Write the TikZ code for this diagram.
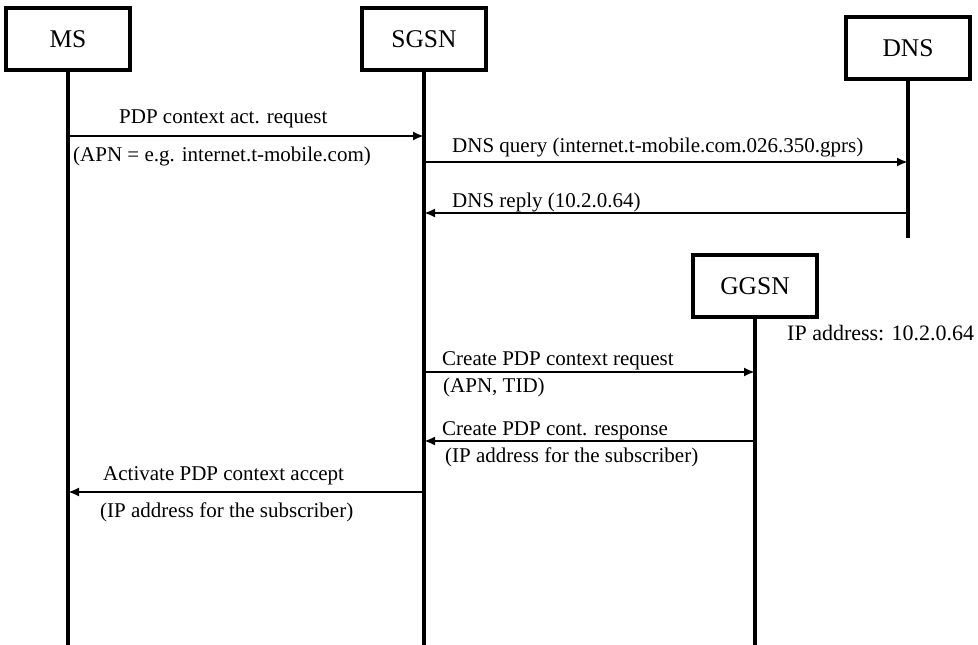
\documentclass[tikz,border=0pt]{standalone}
\usepackage{fontspec}
\setmainfont{Liberation Serif}
\usepackage{tikz}
\usetikzlibrary{arrows.meta,positioning}

\begin{document}
\begin{tikzpicture}[
  x=1pt, y=-1pt,
  ent/.style={draw,line width=3.2pt,minimum width=124pt,minimum height=62pt,
              inner sep=0pt,font=\fontsize{25.5}{30}\selectfont},
  life/.style={line width=3.4pt},
  arr/.style={-{Latex[length=11pt,width=9pt]},line width=2.8pt},
  lbl/.style={anchor=base west,inner sep=0pt,font=\fontsize{21}{25}\selectfont}
]
  \useasboundingbox (0,0) rectangle (978,645);

  % entities
  \node[ent] (ms)   at (68,39)   {MS};
  \node[ent] (sgsn) at (424,39)  {SGSN};
  \node[ent] (dns)  at (908,48)  {DNS};
  \node[ent] (ggsn) at (755,286) {GGSN};

  \coordinate (bottom)  at (0,645);
  \coordinate (dnsend)  at (0,238);

  % lifelines
  \foreach \n in {ms,sgsn,ggsn}
    \draw[life] (\n.south) -- (\n |- bottom);
  \draw[life] (dns.south) -- (dns |- dnsend);

  % message rows
  \coordinate (r1) at (0,136);
  \coordinate (r2) at (0,162);
  \coordinate (r3) at (0,213);
  \coordinate (r4) at (0,372);
  \coordinate (r5) at (0,441);
  \coordinate (r6) at (0,492);

  \draw[arr] (ms |- r1) -- (sgsn |- r1);
  \node[lbl] (actreq) at (119,123) {PDP context act. request};
  \node[lbl] (apn)    at (73,161)  {(APN = e.g. internet.t-mobile.com)};

  \draw[arr] (sgsn |- r2) -- (dns |- r2);
  \node[lbl] (query) at (452,152) {DNS query (internet.t-mobile.com.026.350.gprs)};

  \draw[arr] (dns |- r3) -- (sgsn |- r3);
  \node[lbl] (reply) at (452,207) {DNS reply (10.2.0.64)};

  \node[lbl,font=\fontsize{22}{26}\selectfont] (ggsnip) at (787,340) {IP address: 10.2.0.64};

  \draw[arr] (sgsn |- r4) -- (ggsn |- r4);
  \node[lbl] (crreq) at (442,365) {Create PDP context request};
  \node[lbl] (tid)   at (443,392) {(APN, TID)};

  \draw[arr] (ggsn |- r5) -- (sgsn |- r5);
  \node[lbl] (crresp) at (442,435) {Create PDP cont. response};
  \node[lbl] (ipsub1) at (445,462) {(IP address for the subscriber)};

  \draw[arr] (sgsn |- r6) -- (ms |- r6);
  \node[lbl] (accept) at (103,480) {Activate PDP context accept};
  \node[lbl] (ipsub2) at (100,517) {(IP address for the subscriber)};
\end{tikzpicture}
\end{document}
